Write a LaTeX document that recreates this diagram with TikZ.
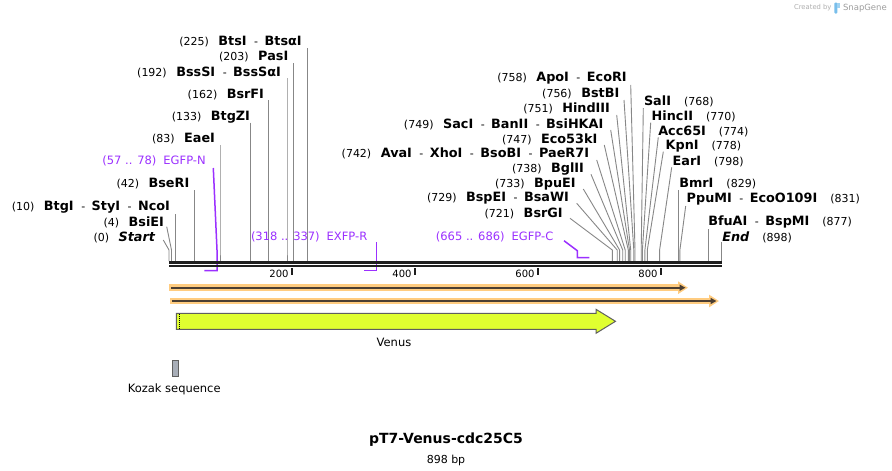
\documentclass[tikz,border=0pt]{standalone}
\usepackage{fontspec}
\setmainfont{DejaVu Sans}
\usetikzlibrary{arrows.meta,calc}
\definecolor{cutgray}{RGB}{135,135,135}
\definecolor{primer}{RGB}{155,48,255}
\definecolor{bbone}{RGB}{30,30,30}
\definecolor{glow}{RGB}{255,204,128}
\definecolor{orfline}{RGB}{75,62,50}
\definecolor{venus}{RGB}{224,255,48}
\definecolor{kozak}{RGB}{168,174,184}
\definecolor{featedge}{RGB}{95,95,95}
\definecolor{wmark}{RGB}{175,175,175}
\definecolor{wlogo}{RGB}{120,190,235}
\newcommand\enzN[1]{{\fontsize{12.8}{14}\selectfont\bfseries #1}}
\newcommand\enzP[1]{{\fontsize{11}{12}\selectfont #1}}
\newcommand\dsh{{\fontsize{11}{12}\selectfont\hspace{7.5pt}-\hspace{6.5pt}}}
\newcommand\gapL{\hspace{9.5pt}}
\newcommand\gapR{\hspace{13pt}}
% id, site x, top x, top y, label x, label y, text
\newcommand\cutL[7]{%
  \coordinate (s#1) at (#2,261);
  \coordinate (t#1) at (#3,#4);
  \node[lbl,anchor=east] (l#1) at (#5,#6) {#7};
  \draw[cut] (t#1) -- ([yshift=11pt]s#1) -- (s#1);}
\newcommand\cutR[7]{%
  \coordinate (s#1) at (#2,261);
  \coordinate (t#1) at (#3,#4);
  \node[lbl,anchor=west] (l#1) at (#5,#6) {#7};
  \draw[cut] (t#1) -- ([yshift=11pt]s#1) -- (s#1);}
\begin{document}
\begin{tikzpicture}[x=1pt,y=-1pt,
  every node/.style={inner sep=0pt, outer sep=0pt},
  lbl/.style={text=black},
  cut/.style={draw=cutgray, line width=0.9pt},
  primline/.style={draw=primer, line width=1.5pt},
  primtext/.style={text=primer, font=\fontsize{11.5}{13}\selectfont},
  bbtop/.style={draw=bbone, line width=2.7pt},
  bbbot/.style={draw=bbone, line width=1.5pt},
  tickmark/.style={draw=bbone, line width=2pt},
  ticklbl/.style={font=\fontsize{10}{12}\selectfont, anchor=east},
  glowline/.style={draw=glow, line width=6.5pt, -{Triangle[length=10pt,width=12pt]}},
  orfarrow/.style={draw=orfline, line width=2.2pt, -{Triangle[length=6pt,width=6pt]}},
  featlbl/.style={font=\fontsize{11.5}{13}\selectfont}
]
\useasboundingbox (0,0) rectangle (892,471);
\fill[white] (0,0) rectangle (892,471);

% ---------- left group ----------
\cutL{225}{307.3}{307.3}{48.3}{301.7}{42}{\enzP{(225)}\gapL\enzN{BtsI}\dsh\enzN{BtsαI}}
\cutL{203}{293.8}{293.8}{63.3}{288.3}{57}{\enzP{(203)}\gapL\enzN{PasI}}
\cutL{192}{287.0}{287.0}{78.3}{281}{72}{\enzP{(192)}\gapL\enzN{BssSI}\dsh\enzN{BssSαI}}
\cutL{162}{268.6}{268.6}{100}{264}{95}{\enzP{(162)}\gapL\enzN{BsrFI}}
\cutL{133}{250.8}{250.8}{122.7}{250}{117.5}{\enzP{(133)}\gapL\enzN{BtgZI}}
\cutL{83}{220.0}{220.0}{145}{215}{139}{\enzP{(83)}\gapL\enzN{EaeI}}
\cutL{42}{194.8}{194.8}{190}{189.3}{184}{\enzP{(42)}\gapL\enzN{BseRI}}
\cutL{10}{175.1}{175.1}{214}{170}{207}{\enzP{(10)}\gapL\enzN{BtgI}\dsh\enzN{StyI}\dsh\enzN{NcoI}}
\cutL{4}{171.5}{166.7}{226.7}{164}{222}{\enzP{(4)}\gapL\enzN{BsiEI}}
\cutL{0}{169.0}{163.3}{240}{155}{237}{\enzP{(0)}\gapL\enzN{\itshape Start}}

% ---------- right cluster, labels on the left ----------
\cutL{758}{635.0}{630.7}{85}{626.7}{78}{\enzP{(758)}\gapL\enzN{ApoI}\dsh\enzN{EcoRI}}
\cutL{756}{633.8}{624}{100}{619.3}{93.5}{\enzP{(756)}\gapL\enzN{BstBI}}
\cutL{751}{630.7}{616.7}{115}{610}{108.5}{\enzP{(751)}\gapL\enzN{HindIII}}
\cutL{749}{629.5}{610.7}{130}{603.3}{124}{\enzP{(749)}\gapL\enzN{SacI}\dsh\enzN{BanII}\dsh\enzN{BsiHKAI}}
\cutL{747}{628.3}{604.3}{145}{597.3}{139}{\enzP{(747)}\gapL\enzN{Eco53kI}}
\cutL{742}{625.2}{596.7}{160}{589}{153.5}{\enzP{(742)}\gapL\enzN{AvaI}\dsh\enzN{XhoI}\dsh\enzN{BsoBI}\dsh\enzN{PaeR7I}}
\cutL{738}{622.7}{591}{174.3}{584}{169}{\enzP{(738)}\gapL\enzN{BglII}}
\cutL{733}{619.6}{583.3}{189}{575.7}{184}{\enzP{(733)}\gapL\enzN{BpuEI}}
\cutL{729}{617.2}{576.7}{203.3}{569}{198.5}{\enzP{(729)}\gapL\enzN{BspEI}\dsh\enzN{BsaWI}}
\cutL{721}{612.3}{570}{218.3}{562.7}{213.5}{\enzP{(721)}\gapL\enzN{BsrGI}}

% ---------- right cluster, labels on the right ----------
\cutR{768}{641.2}{643.3}{108}{644}{101.5}{\enzN{SalI}\gapR\enzP{(768)}}
\cutR{770}{642.4}{650.7}{122.7}{651.7}{116.5}{\enzN{HincII}\gapR\enzP{(770)}}
\cutR{774}{644.9}{658.3}{137.3}{658.3}{131.5}{\enzN{Acc65I}\gapR\enzP{(774)}}
\cutR{778}{647.3}{663.3}{151.7}{665.7}{146.5}{\enzN{KpnI}\gapR\enzP{(778)}}
\cutR{798}{659.6}{671.7}{167.3}{672.7}{161.5}{\enzN{EarI}\gapR\enzP{(798)}}
\cutR{829}{678.7}{678.7}{190}{679.3}{184}{\enzN{BmrI}\gapR\enzP{(829)}}
\cutR{831}{679.9}{685.7}{206}{686.7}{199}{\enzN{PpuMI}\dsh\enzN{EcoO109I}\gapR\enzP{(831)}}
\cutR{877}{708.2}{708.2}{229}{708.3}{221.5}{\enzN{BfuAI}\dsh\enzN{BspMI}\gapR\enzP{(877)}}
\cutR{898}{721.1}{721.1}{242.3}{722.3}{237}{\enzN{\itshape End}\gapR\enzP{(898)}}

% ---------- primers ----------
\node[primtext,anchor=east] (pN) at (205.7,161) {(57 .. 78)\hspace{7pt}EGFP-N};
\coordinate (pNt) at (213.3,168);
\coordinate (pNb) at (217,270.7);
\coordinate (pNe) at (204.3,270.7);
\draw[primline] (pNt) -- (217,250) -- (pNb) -- (pNe);

\node[primtext,anchor=east] (pR) at (367.3,236.7) {(318 .. 337)\hspace{7pt}EXFP-R};
\coordinate (pRt) at (376.7,242);
\coordinate (pRb) at (376.7,270.7);
\coordinate (pRe) at (364,270.7);
\draw[primline] (pRt) -- (pRb) -- (pRe);

\node[primtext,anchor=east] (pC) at (553.3,237) {(665 .. 686)\hspace{7pt}EGFP-C};
\coordinate (pCt) at (564,240.7);
\coordinate (pCb) at (577.3,257.7);
\coordinate (pCe) at (589.3,257.7);
\draw[primline] (pCt) -- (577.3,250.7) -- (pCb) -- (pCe);

% ---------- backbone ----------
\coordinate (bbL) at (169,262.6);
\coordinate (bbR) at (722,262.6);
\draw[bbtop] (bbL) -- (bbR);
\draw[bbbot] ([yshift=-3.6pt]bbL) -- ([yshift=-3.6pt]bbR);

% ---------- scale ----------
\foreach \v/\xx in {200/292,400/415,600/538,800/661}{
  \coordinate (tk\v) at (\xx,268);
  \draw[tickmark] (tk\v) -- ++(0,6.5);
  \node[ticklbl] (tl\v) at (\xx-3.5,273.8) {\v};
}

% ---------- ORF arrows ----------
\coordinate (o1a) at (169,287.7);
\coordinate (o1b) at (688,287.7);
\draw[glowline] (o1a) -- (o1b);
\draw[orfarrow] ([xshift=2pt]o1a) -- ([xshift=-2.5pt]o1b);
\coordinate (o2a) at (170,301);
\coordinate (o2b) at (719,301);
\draw[glowline] (o2a) -- (o2b);
\draw[orfarrow] ([xshift=2pt]o2a) -- ([xshift=-2.5pt]o2b);

% ---------- Venus feature ----------
\draw[fill=venus, draw=featedge, line width=1pt]
  (176.3,313.3) -- (596,313.3) -- (596,309.3) -- (615.5,321.3) -- (596,333.3)
  -- (596,329.3) -- (176.3,329.3) -- cycle;
\draw[black, line width=0.9pt, dash pattern=on 1pt off 1pt] (179,313.8) -- (179,328.8);
\node[featlbl] (venuslbl) at (394,342.5) {Venus};

% ---------- Kozak ----------
\draw[fill=kozak, draw=featedge, line width=1pt] (172.3,360.3) rectangle (178.3,376.5);
\node[featlbl] (kozaklbl) at (174.2,389.5) {Kozak sequence};

% ---------- title ----------
\node (title) at (446,440) {\fontsize{14}{16}\selectfont\bfseries pT7-Venus-cdc25C5};
\node (size) at (446,460.5) {\fontsize{11}{13}\selectfont 898 bp};

% ---------- watermark ----------
\node[anchor=east, text=wmark] (wm1) at (831.5,8) {\fontsize{6.8}{8}\selectfont Created by};
\fill[wlogo, rounded corners=1pt] (834.3,2.5) rectangle (837.3,13.5);
\fill[wlogo!70] (837.3,3) rectangle (839.5,8);
\node[anchor=west, text=wmark!90!black] (wm2) at (843,8) {\fontsize{8.5}{10}\selectfont SnapGene};
\end{tikzpicture}
\end{document}
